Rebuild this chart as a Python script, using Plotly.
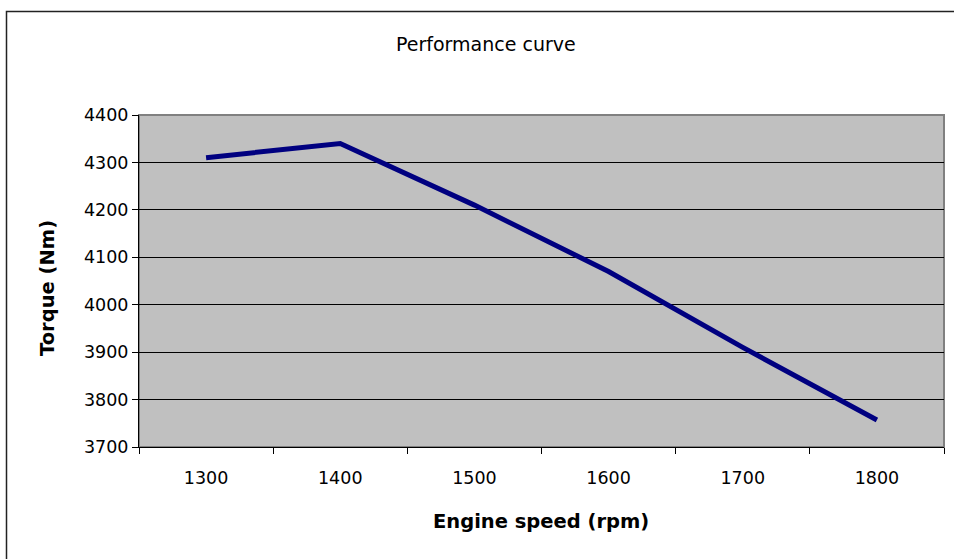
import plotly.graph_objects as go

categories = ["1300", "1400", "1500", "1600", "1700", "1800"]
torque = [4310, 4340, 4210, 4070, 3910, 3757]
y_ticks = [3700, 3800, 3900, 4000, 4100, 4200, 4300, 4400]

W, H = 954, 559
L, R, T, B = 139, 944, 115, 447

fig = go.Figure()
fig.add_trace(go.Scatter(
    x=categories, y=torque, mode="lines",
    line=dict(color="#000080", width=5),
    hoverinfo="x+y", showlegend=False,
))

font = "DejaVu Sans, Arial, sans-serif"

def px2x(p):
    return (p - L) / (R - L)

def py2y(p):
    return (B - p) / (B - T)

fig.update_layout(
    width=W, height=H,
    margin=dict(l=L, r=W - R, t=T, b=H - B),
    paper_bgcolor="white",
    plot_bgcolor="#C0C0C0",
    font=dict(family=font, color="black", size=17.5),
    xaxis=dict(
        type="category", tickson="boundaries",
        ticks="outside", ticklen=6, tickcolor="black", tickwidth=1,
        showline=True, linecolor="black", linewidth=1,
        showgrid=False, zeroline=False,
        tickfont=dict(size=17.5), ticklabelstandoff=15,
        range=[-0.5, 5.5],
    ),
    yaxis=dict(
        range=[3700, 4400], tickvals=y_ticks,
        ticktext=[str(v) for v in y_ticks],
        ticks="outside", ticklen=6, tickcolor="black", tickwidth=1,
        showline=True, linecolor="black", linewidth=1,
        showgrid=True, gridcolor="black", gridwidth=1,
        zeroline=False, tickfont=dict(size=17.5),
    ),
    annotations=[
        dict(text="Performance curve", x=px2x(486), y=py2y(43.5),
             xref="paper", yref="paper", showarrow=False,
             font=dict(size=19), xanchor="center", yanchor="middle"),
        dict(text="<b>Engine speed (rpm)</b>", x=px2x(541), y=py2y(521),
             xref="paper", yref="paper", showarrow=False,
             font=dict(size=19.5), xanchor="center", yanchor="middle"),
        dict(text="<b>Torque (Nm)</b>", x=px2x(47), y=py2y(288),
             xref="paper", yref="paper", showarrow=False, textangle=-90,
             font=dict(size=19.5), xanchor="center", yanchor="middle"),
    ],
    shapes=[
        dict(type="rect", xref="paper", yref="paper",
             x0=0, x1=1, y0=0, y1=1,
             line=dict(color="#808080", width=2), layer="below"),
        dict(type="rect", xref="paper", yref="paper",
             x0=px2x(6.5), x1=px2x(1000), y0=py2y(600), y1=py2y(11.5),
             line=dict(color="#222222", width=1.5), layer="above"),
    ],
)

fig.write_html("out.html", config={"displayModeBar": False},
               post_script="document.body.style.margin='0';document.body.style.overflow='hidden';")
